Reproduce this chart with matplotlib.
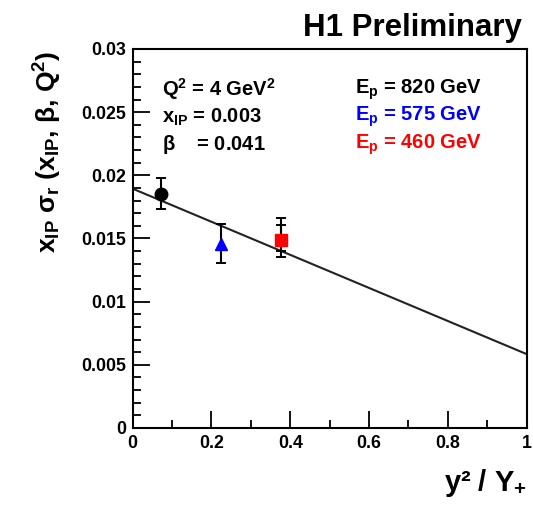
import matplotlib
matplotlib.use('Agg')
import matplotlib.pyplot as plt
from matplotlib.ticker import MultipleLocator

# measured points (y^2/Y+ , reduced cross section)
ep_labels = ['820', '575', '460']
ep_colors = ['black', 'blue', 'red']
ep_markers = ['o', '^', 's']
x_vals = [0.073, 0.223, 0.376]
y_vals = [0.01852, 0.01455, 0.01487]
err_lo = [0.00117, 0.00150, 0.00135]  # total error, lower
err_hi = [0.00124, 0.00163, 0.00172]  # total error, upper
stat_lo = [0.0, 0.0, 0.00088]
stat_hi = [0.0, 0.0, 0.00119]

# straight line fit
fit_x = [0.0, 1.0]
fit_y = [0.01894, 0.00585]

plt.rcParams['font.family'] = ['Liberation Sans', 'DejaVu Sans']
plt.rcParams['font.weight'] = 'bold'
plt.rcParams['mathtext.fontset'] = 'custom'
plt.rcParams['mathtext.rm'] = 'Liberation Sans:bold'
plt.rcParams['mathtext.it'] = 'Liberation Sans:bold'
plt.rcParams['mathtext.bf'] = 'Liberation Sans:bold'
plt.rcParams['mathtext.sf'] = 'Liberation Sans'  # thin greek letters

fig = plt.figure(figsize=(5.33, 5.05), dpi=100)
ax = fig.add_axes([0.249, 0.1525, 0.739, 0.7505])

ax.plot(fit_x, fit_y, color='#222222', lw=1.5, zorder=2)

for i in range(len(x_vals)):
    ax.errorbar(x_vals[i], y_vals[i], yerr=[[err_lo[i]], [err_hi[i]]],
                fmt='none', ecolor='black', elinewidth=1.5, capsize=3.4,
                capthick=1.4, zorder=3)
    if stat_lo[i] > 0:
        ax.errorbar(x_vals[i], y_vals[i], yerr=[[stat_lo[i]], [stat_hi[i]]],
                    fmt='none', ecolor='black', elinewidth=1.5, capsize=3.4,
                    capthick=1.4, zorder=3)
    ax.plot(x_vals[i], y_vals[i], marker=ep_markers[i], color=ep_colors[i],
            ms=9, mec=ep_colors[i], ls='none', zorder=4)

ax.set_xlim(0, 1)
ax.set_ylim(0, 0.03)
ax.xaxis.set_major_locator(MultipleLocator(0.2))
ax.xaxis.set_minor_locator(MultipleLocator(0.1))
ax.yaxis.set_major_locator(MultipleLocator(0.005))
ax.yaxis.set_minor_locator(MultipleLocator(0.001))
ax.set_xticks([0, 0.2, 0.4, 0.6, 0.8, 1.0])
ax.set_xticklabels(['0', '0.2', '0.4', '0.6', '0.8', '1'])
ax.set_yticks([0, 0.005, 0.01, 0.015, 0.02, 0.025, 0.03])
ax.set_yticklabels(['0', '0.005', '0.01', '0.015', '0.02', '0.025', '0.03'])
ax.tick_params(which='both', direction='in', top=False, right=False,
               labelsize=12.8, width=1.3)
ax.tick_params(which='major', length=12, pad=5)
ax.tick_params(which='minor', length=6)
for sp in ax.spines.values():
    sp.set_linewidth(1.5)

# info text
rows = [0.893, 0.82, 0.748]
ax.text(0.075, rows[0], 'Q$^{2}$ = 4 GeV$^{2}$', transform=ax.transAxes, fontsize=14.5, va='center')
ax.text(0.075, rows[1], 'x$_{\\mathrm{IP}}$ = 0.003', transform=ax.transAxes, fontsize=14.5, va='center')
ax.text(0.075, rows[2], '$\\mathsf{\\beta}$    = 0.041', transform=ax.transAxes, fontsize=14.5, va='center')
for i in range(3):
    ax.text(0.565, rows[i], 'E$_{\\mathrm{p}}$ = ' + ep_labels[i] + ' GeV',
            transform=ax.transAxes, fontsize=14.5, va='center', color=ep_colors[i])

fig.text(0.979, 0.945, 'H1 Preliminary', ha='right', va='center', fontsize=22.5)
fig.text(0.989, 0.012, 'y² / Y$_{+}$', ha='right', va='bottom', fontsize=21)
fig.text(0.09, 0.9, 'x$_{\\mathrm{IP}}$ $\\mathsf{\\sigma}_{r}$ (x$_{\\mathrm{IP}}$, $\\mathsf{\\beta}$, Q$^{2}$)',
         rotation=90, ha='center', va='top', fontsize=19)

fig.savefig('out.png', dpi=100)
